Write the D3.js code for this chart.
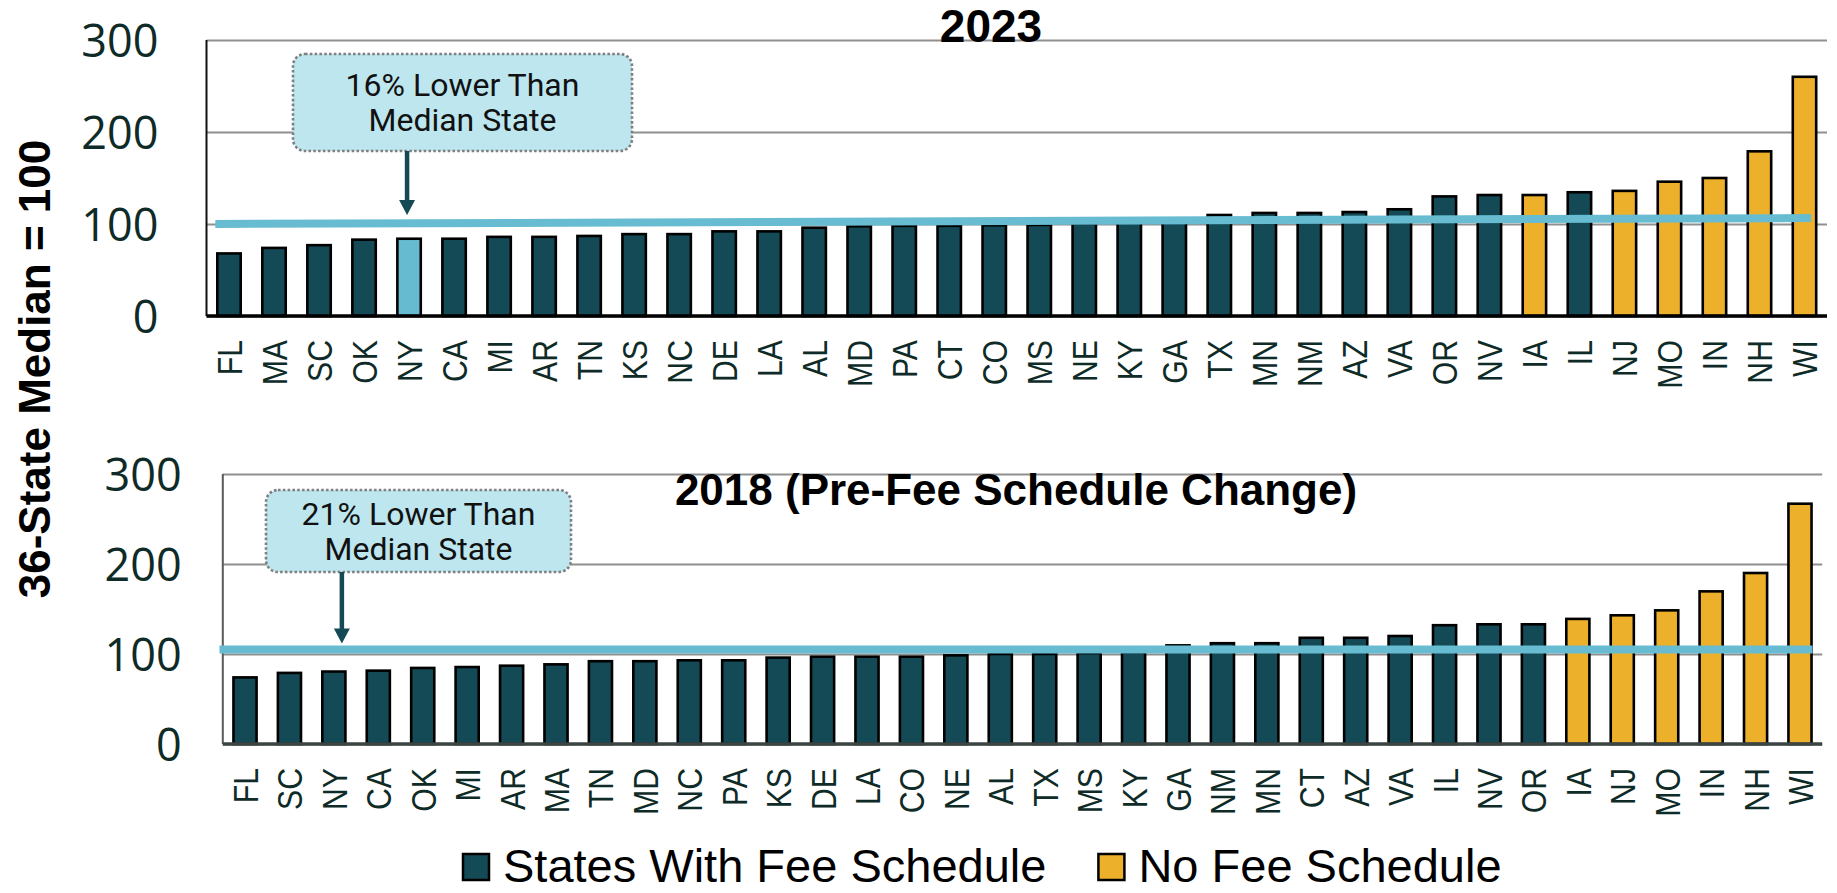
<!DOCTYPE html>
<html>
<head>
<meta charset="utf-8">
<script src="https://cdn.jsdelivr.net/npm/d3@7"></script>
<style>
  html, body { margin: 0; padding: 0; background: #fff; }
</style>
</head>
<body>
<div id="chart"></div>
<script>
// data
const states2023 = ["FL","MA","SC","OK","NY","CA","MI","AR","TN","KS","NC","DE","LA","AL","MD","PA","CT","CO","MS","NE","KY","GA","TX","MN","NM","AZ","VA","OR","NV","IA","IL","NJ","MO","IN","NH","WI"];
const values2023 = [68,74,77,83,84,84,86,86,87,89,89,92,92,96,97.5,98,98,98.6,99,100.5,101.5,103,109.8,112,112,113,116,130,131.5,131.5,134.5,136,146,150,179,260];
const median2023 = [100, 106.5];   // line drawn from first to last bar

const states2018 = ["FL","SC","NY","CA","OK","MI","AR","MA","TN","MD","NC","PA","KS","DE","LA","CO","NE","AL","TX","MS","KY","GA","NM","MN","CT","AZ","VA","IL","NV","OR","IA","NJ","MO","IN","NH","WI"];
const values2018 = [74,79,80.5,81.5,84.5,85.5,87,88.5,92,92,93,93,96,97,97,97,98.5,100,100,101,102,109.6,112,112,118,118,120,132,133,133,139,143,148.5,169.6,190,267];
const median2018 = [105, 105];

const noFeeStates = ["IA","NJ","MO","IN","NH","WI"];
const highlightState = "NY";
const yTicks = [0, 100, 200, 300];
const legendLabels = ["States With Fee Schedule", "No Fee Schedule"];
const notes = [["16% Lower Than", "Median State"], ["21% Lower Than", "Median State"]];
const titles = ["2023", "2018 (Pre-Fee Schedule Change)"];
const yTitle = "36-State Median = 100";

const colors = {
    fee: "#134a56",
    noFee: "#ecb02b",
    highlight: "#67bbd0",
    median: "#68bcd1",
    note: "#bde6ef",
    text: "#0e2b27"
};

const W = 1837, H = 893;

const svg = d3.select("#chart")
    .append("svg")
    .attr("width", W)
    .attr("height", H)
    .attr("viewBox", `0 0 ${W} ${H}`);

function drawPanel(cfg) {
    const x = d3.scaleBand()
        .domain(cfg.states)
        .range(cfg.xRange)
        .paddingInner(0.48)
        .paddingOuter(0.24);
    const y = d3.scaleLinear().domain([0, 300]).range(cfg.yRange);

    const g = svg.append("g");

    // gridlines
    g.append("g")
        .attr("transform", `translate(${cfg.xRange[0]},0)`)
        .call(d3.axisLeft(y).tickValues(yTicks).tickSize(-(cfg.xRange[1] - cfg.xRange[0])).tickFormat(""))
        .call(a => a.select(".domain").remove())
        .call(a => a.selectAll("line").attr("stroke", "#8f8f8f").attr("stroke-width", 2.2));

    // tick labels
    g.append("g")
        .attr("transform", `translate(${cfg.xRange[0] - cfg.tickGap},0)`)
        .call(d3.axisLeft(y).tickValues(yTicks).tickSize(0).tickPadding(0))
        .call(a => a.select(".domain").remove())
        .call(a => a.selectAll("text")
            .attr("font-family", "'Open Sans', sans-serif")
            .attr("font-size", 45)
            .attr("fill", colors.text)
            .attr("dy", "0.36em"));

    // title (drawn before bars so the gridline shows under it like the original)
    g.append("text")
        .attr("x", cfg.titleX)
        .attr("y", cfg.titleY)
        .attr("text-anchor", "middle")
        .attr("font-family", "'Liberation Sans', Arial, sans-serif")
        .attr("font-weight", "bold")
        .attr("font-size", cfg.titleSize)
        .attr("fill", "#000")
        .text(cfg.title);

    // bars
    g.append("g")
        .selectAll("rect")
        .data(cfg.states.map((s, i) => ({state: s, value: cfg.values[i]})))
        .join("rect")
        .attr("x", d => x(d.state))
        .attr("y", d => y(d.value))
        .attr("width", x.bandwidth())
        .attr("height", d => y(0) - y(d.value))
        .attr("fill", d => {
            if (cfg.highlight && d.state === cfg.highlight) return colors.highlight;
            return noFeeStates.includes(d.state) ? colors.noFee : colors.fee;
        })
        .attr("stroke", "#000")
        .attr("stroke-width", 2.6);

    // axes lines
    g.append("line")
        .attr("x1", cfg.xRange[0]).attr("x2", cfg.xRange[0])
        .attr("y1", y(300)).attr("y2", y(0))
        .attr("stroke", cfg.leftAxisColor).attr("stroke-width", 2);

    const xAxis = g.append("g")
        .attr("transform", `translate(0,${y(0)})`)
        .call(d3.axisBottom(x).tickSize(0).tickPadding(0));
    xAxis.select(".domain")
        .attr("d", `M${cfg.xRange[0]},0H${cfg.xRange[1]}`)
        .attr("stroke", cfg.baseColor)
        .attr("stroke-width", 3.5);
    xAxis.selectAll("text")
        .attr("font-family", "'Liberation Sans', Arial, sans-serif")
        .attr("font-size", 36)
        .attr("fill", colors.text)
        .attr("text-anchor", "end")
        .attr("dy", 0)
        .attr("transform", `translate(13,24) rotate(-90) scale(0.84,1)`)
        .attr("x", 0)
        .attr("y", 0);

    // median line
    const mx1 = x(cfg.states[0]) + cfg.medianPad[0];
    const mx2 = x(cfg.states[cfg.states.length - 1]) + x.bandwidth() + cfg.medianPad[1];
    g.append("line")
        .attr("x1", mx1).attr("y1", y(cfg.median[0]))
        .attr("x2", mx2).attr("y2", y(cfg.median[1]))
        .attr("stroke", colors.median)
        .attr("stroke-width", 8);

    // annotation box
    const b = cfg.note;
    const ng = g.append("g");
    ng.append("rect")
        .attr("x", b.x).attr("y", b.y)
        .attr("width", b.w).attr("height", b.h)
        .attr("rx", 12)
        .attr("fill", colors.note)
        .attr("stroke", "#7f7f7f")
        .attr("stroke-width", 2.6)
        .attr("stroke-dasharray", "2.6 2.2");
    ng.append("text")
        .attr("text-anchor", "middle")
        .attr("font-family", "Roboto, sans-serif")
        .attr("font-size", 32)
        .attr("fill", "#111")
        .selectAll("tspan")
        .data(b.lines)
        .join("tspan")
        .attr("x", b.x + b.w / 2)
        .attr("y", (d, i) => b.y + b.textTop + i * 35)
        .text(d => d);

    // arrow down to the median line
    const ax = x(highlightState) + x.bandwidth() / 2 + b.arrowDx;
    const tipY = y(d3.mean(cfg.median)) - 6;
    ng.append("line")
        .attr("x1", ax).attr("x2", ax)
        .attr("y1", b.y + b.h).attr("y2", tipY - 14)
        .attr("stroke", colors.fee).attr("stroke-width", 4.5);
    ng.append("path")
        .attr("d", `M${ax - 8},${tipY - 15}L${ax + 8},${tipY - 15}L${ax},${tipY}Z`)
        .attr("fill", colors.fee);
}

drawPanel({
    states: states2023,
    values: values2023,
    median: median2023,
    highlight: highlightState,
    xRange: [206.5, 1827],
    yRange: [316, 40],
    tickGap: 48,
    title: titles[0],
    titleX: 991, titleY: 42, titleSize: 46,
    leftAxisColor: "#111",
    baseColor: "#000",
    medianPad: [-2, -5],
    note: {x: 293, y: 54, w: 339, h: 97, textTop: 42, lines: notes[0], arrowDx: -2}
});

drawPanel({
    states: states2018,
    values: values2018,
    median: median2018,
    highlight: null,
    xRange: [222.8, 1822.2],
    yRange: [744, 474],
    tickGap: 41,
    title: titles[1],
    titleX: 1016, titleY: 505, titleSize: 44,
    leftAxisColor: "#5a5a5a",
    baseColor: "#3d4444",
    medianPad: [-14, 1],
    note: {x: 266, y: 490, w: 305, h: 82, textTop: 35, lines: notes[1], arrowDx: 8}
});

// y axis title
svg.append("text")
    .attr("transform", `translate(50,369) rotate(-90)`)
    .attr("text-anchor", "middle")
    .attr("font-family", "'Liberation Sans', Arial, sans-serif")
    .attr("font-weight", "bold")
    .attr("font-size", 44)
    .attr("fill", "#000")
    .text(yTitle);

// legend
const legend = svg.append("g").attr("transform", "translate(463,854)");
let lx = 0;
legendLabels.forEach((label, i) => {
    const item = legend.append("g").attr("transform", `translate(${lx},0)`);
    item.append("rect")
        .attr("width", 26).attr("height", 26)
        .attr("fill", i === 0 ? colors.fee : colors.noFee)
        .attr("stroke", "#000").attr("stroke-width", 2.5);
    const t = item.append("text")
        .attr("x", 40).attr("y", 28)
        .attr("font-family", "'Liberation Sans', Arial, sans-serif")
        .attr("font-size", 47)
        .attr("fill", "#000")
        .text(label);
    lx += 40 + t.node().getComputedTextLength() + 52;
});
</script>
</body>
</html>
